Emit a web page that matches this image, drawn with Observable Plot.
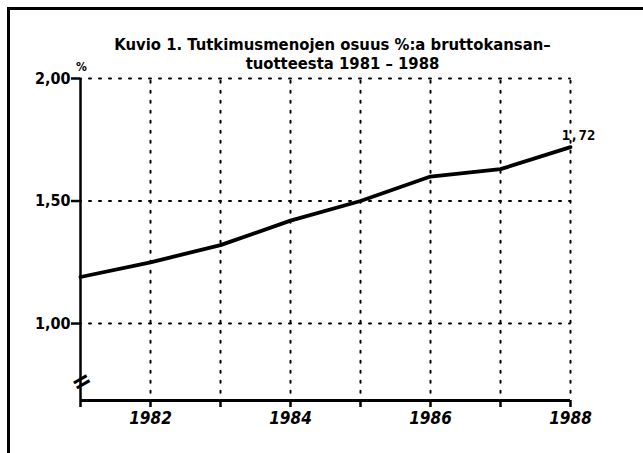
<!DOCTYPE html>
<html>
<head>
<meta charset="utf-8">
<script src="https://cdn.jsdelivr.net/npm/d3@7"></script>
<script src="https://cdn.jsdelivr.net/npm/@observablehq/plot@0.6"></script>
<style>
  html, body { margin: 0; padding: 0; background: #fff; }
  #wrap { position: relative; width: 643px; height: 453px; overflow: hidden; }
  #frame { position: absolute; left: 7px; top: 7px; width: 640px; height: 450px;
           border-top: 3px solid #000; border-left: 3px solid #000; pointer-events: none; }
  #chart { position: absolute; left: 0; top: 0; }
</style>
</head>
<body>
<div id="wrap"><div id="chart"></div><div id="frame"></div></div>
<script>
// ---- data ----
const years = [1981, 1982, 1983, 1984, 1985, 1986, 1987, 1988];
const values = [1.19, 1.25, 1.32, 1.42, 1.50, 1.60, 1.63, 1.72];
const yTicks = [1.00, 1.50, 2.00];
const xTicks = [1982, 1983, 1984, 1985, 1986, 1987, 1988];
const xTickLabels = ["1982", "1984", "1986", "1988"];
const titleLine1 = "Kuvio 1. Tutkimusmenojen osuus %:a bruttokansan\u2013";
const titleLine2 = "tuotteesta 1981 \u2013 1988";
const unitLabel = "%";
const lastLabel = "1,72";

const data = years.map((year, i) => ({year, value: values[i]}));
const yLo = 0.686, yHi = 2.0;
const font = "'DejaVu Sans Condensed', 'Liberation Sans Narrow', 'DejaVu Sans', sans-serif";
const fmt = d => d.toFixed(2).replace(".", ",");

const chart = Plot.plot({
  width: 643,
  height: 453,
  marginLeft: 80,
  marginRight: 73,
  marginTop: 78,
  marginBottom: 53,
  style: {fontFamily: font, background: "transparent", color: "#000"},
  x: {domain: [years[0], years[years.length - 1]]},
  y: {domain: [yLo, yHi]},
  marks: [
    // dotted grid
    Plot.ruleY(yTicks, {x1: years[0], x2: years[years.length - 1], stroke: "#000",
      strokeWidth: 2, strokeDasharray: "2,8", strokeDashoffset: -9, strokeLinecap: "round"}),
    Plot.ruleX(xTicks, {y1: yLo + 0.03, y2: yHi, stroke: "#000",
      strokeWidth: 2, strokeDasharray: "2,8", strokeLinecap: "round"}),
    // axes lines
    Plot.ruleY([yLo], {x1: years[0], x2: years[years.length - 1], stroke: "#000", strokeWidth: 3}),
    Plot.ruleX([years[0]], {y1: yLo - 0.029, y2: yHi, stroke: "#000", strokeWidth: 2.5}),
    // axis break mark
    Plot.text([years[0]], {x: d => d, y: 0.763, text: () => "=", rotate: -30,
      fontSize: 26, fontWeight: "bold", fill: "#000", dx: 1}),
    Plot.axisY({ticks: yTicks, tickFormat: fmt, tickSize: 9, tickPadding: 1,
      strokeWidth: 2.5, fontSize: 16, fontWeight: "bold", label: null, fill: "#000"}),
    Plot.axisX({ticks: xTicks, tickFormat: d => xTickLabels.includes(String(d)) ? String(d) : "",
      tickSize: 7, tickPadding: 4, strokeWidth: 2.5, fontSize: 17, fontWeight: "bold",
      fontStyle: "italic", label: null, fill: "#000"}),
    // data line
    Plot.line(data, {x: "year", y: "value", stroke: "#000", strokeWidth: 3.8}),
    Plot.text(data.slice(-1), {x: "year", y: "value", text: () => lastLabel, dx: 8, dy: -12,
      fontFamily: "'DejaVu Sans Mono', monospace", fontSize: 14, fontWeight: "bold", fill: "#000"}),
    // unit label
    Plot.text([unitLabel], {x: years[0], y: yHi, text: d => d, dy: -11, dx: 1,
      fontSize: 12, fontWeight: "bold", fill: "#000"}),
    // title
    Plot.text([titleLine1], {frameAnchor: "top", text: d => d, dx: 7, dy: -34,
      fontSize: 16.5, fontWeight: "bold", fill: "#000", lineAnchor: "middle"}),
    Plot.text([titleLine2], {frameAnchor: "top", text: d => d, dx: 17, dy: -15,
      fontSize: 16.5, fontWeight: "bold", fill: "#000", lineAnchor: "middle"})
  ]
});
document.getElementById("chart").appendChild(chart);
</script>
</body>
</html>
